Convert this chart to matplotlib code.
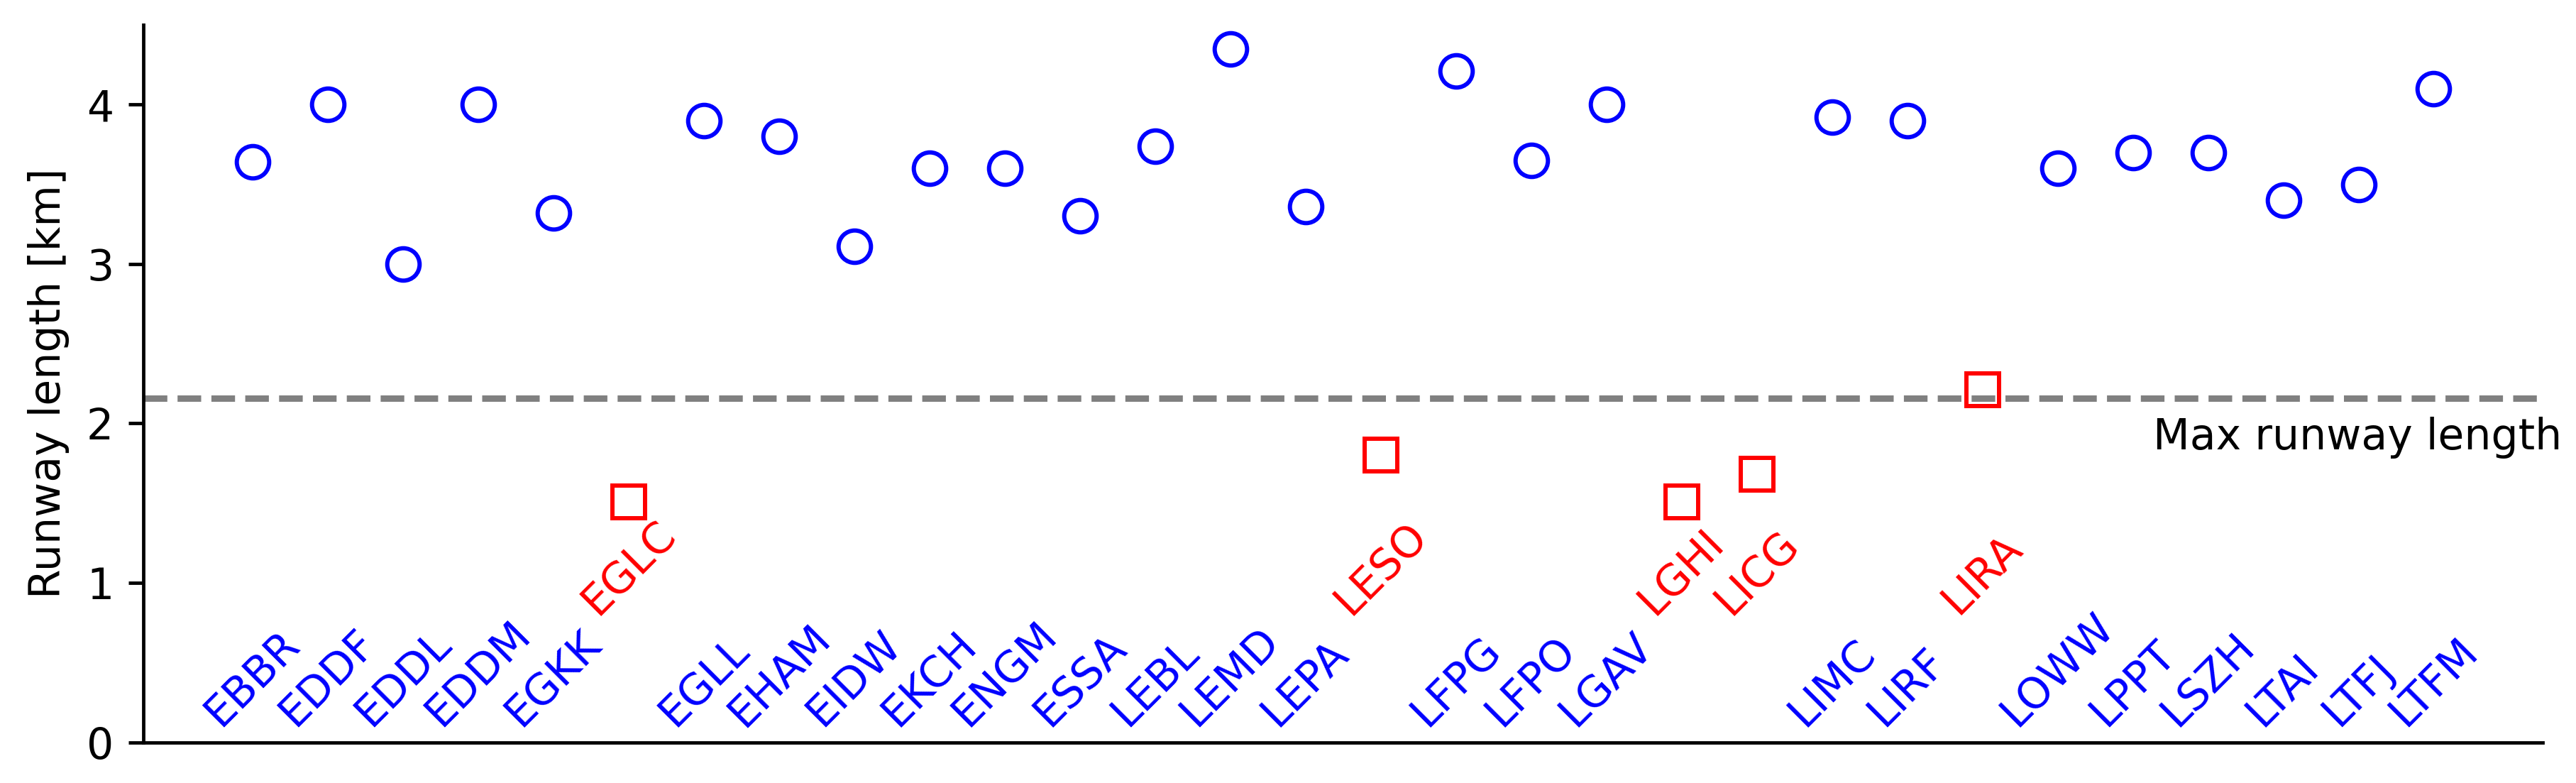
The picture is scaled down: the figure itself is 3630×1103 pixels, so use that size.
import matplotlib.pyplot as plt
import numpy as np

airports = ['EBBR', 'EDDF', 'EDDL', 'EDDM', 'EGKK', 'EGLC', 'EGLL', 'EHAM', 'EIDW', 'EKCH',
            'ENGM', 'ESSA', 'LEBL', 'LEMD', 'LEPA', 'LESO', 'LFPG', 'LFPO', 'LGAV', 'LGHI',
            'LICG', 'LIMC', 'LIRF', 'LIRA', 'LOWW', 'LPPT', 'LSZH', 'LTAI', 'LTFJ', 'LTFM']
lengths = [3.64, 4.00, 3.00, 4.00, 3.32, 1.51, 3.90, 3.80, 3.11, 3.60,
           3.60, 3.30, 3.74, 4.35, 3.36, 1.80, 4.21, 3.65, 4.00, 1.51,
           1.68, 3.92, 3.90, 2.21, 3.60, 3.70, 3.70, 3.40, 3.50, 4.10]
short_airports = ['EGLC', 'LESO', 'LGHI', 'LICG', 'LIRA']
max_runway = 2.16

fig, ax = plt.subplots(figsize=(3630 / 432, 1103 / 432), dpi=432)
fig.subplots_adjust(left=0.0557, right=0.9871, bottom=0.052, top=0.9683)

for i, (name, length) in enumerate(zip(airports, lengths)):
    if name in short_airports:
        ax.plot(i, length, 's', mfc='none', mec='red', ms=7.6)
        ax.text(i, 0.75, name, color='red', rotation=45, ha='center', va='bottom')
    else:
        ax.plot(i, length, 'o', mfc='none', mec='blue', ms=7.6)
        ax.text(i, 0.05, name, color='blue', rotation=45, ha='center', va='bottom')

ax.axhline(max_runway, color='gray', ls='--', lw=1.5)
ax.text(30.71, 2.04, 'Max runway length', ha='right', va='top')

ax.set_xlim(-1.45, 30.45)
ax.set_ylim(0, 4.5)
ax.set_xticks([])
ax.spines[['top', 'right']].set_visible(False)
ax.set_ylabel('Runway length [km]')

fig.savefig('out.png', dpi=432)
